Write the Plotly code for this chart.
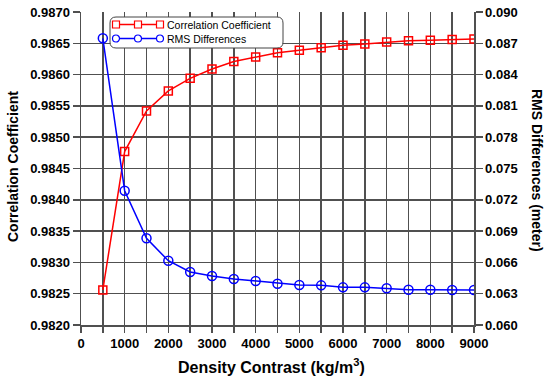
import plotly.graph_objects as go

density = [500, 1000, 1500, 2000, 2500, 3000, 3500, 4000, 4500, 5000,
           5500, 6000, 6500, 7000, 7500, 8000, 8500, 9000]
corr = [0.98256, 0.98477, 0.98542, 0.98574, 0.98594, 0.98609, 0.98621, 0.98628, 0.98635,
        0.98639, 0.98643, 0.98647, 0.98649, 0.98652, 0.98654, 0.98655, 0.98656, 0.98657]
rms = [0.08748, 0.07287, 0.06831, 0.06616, 0.06508, 0.06470, 0.06441, 0.06422, 0.06396,
       0.06383, 0.06380, 0.06361, 0.06361, 0.06352, 0.06338, 0.06338, 0.06335, 0.06335]

x_ticks = list(range(0, 9001, 1000))
y1_ticks = [0.9820, 0.9825, 0.9830, 0.9835, 0.9840, 0.9845, 0.9850, 0.9855, 0.9860, 0.9865, 0.9870]
y2_ticks = [0.060, 0.063, 0.066, 0.069, 0.072, 0.075, 0.078, 0.081, 0.084, 0.087, 0.090]
series_names = ["Correlation Coefficient", "RMS Differences"]
series_colors = ["#ff0000", "#0000ff"]
series_symbols = ["square-open", "circle-open"]

FONT = "Liberation Sans, Arial, sans-serif"
GRID = "#505050"
GW = 1.5

FIG_W, FIG_H = 550, 381
# plot area in pixels
L, W, T, H = 81, 393, 12, 313

fig = go.Figure()
fig.add_trace(go.Scatter(
    x=density, y=corr, name=series_names[0], mode="lines+markers",
    line=dict(color=series_colors[0], width=1.5),
    marker=dict(symbol=series_symbols[0], size=8, color=series_colors[0], line=dict(width=1.5)),
    yaxis="y", showlegend=False))
fig.add_trace(go.Scatter(
    x=density, y=rms, name=series_names[1], mode="lines+markers",
    line=dict(color=series_colors[1], width=1.5),
    marker=dict(symbol=series_symbols[1], size=9, color=series_colors[1], line=dict(width=1.5)),
    yaxis="y2", showlegend=False))

tickfont = dict(family=FONT, size=13, color="black", weight="bold")

def px(x):
    return (x - L) / W
def py(y):
    return (T + H - y) / H

# ---- custom legend (rounded box, line with three markers) ----
bx0, bx1, by0, by1, r = 110, 283, 17, 48, 6
path = (f"M {px(bx0 + r)} {py(by0)} L {px(bx1 - r)} {py(by0)} "
        f"Q {px(bx1)} {py(by0)} {px(bx1)} {py(by0 + r)} "
        f"L {px(bx1)} {py(by1 - r)} Q {px(bx1)} {py(by1)} {px(bx1 - r)} {py(by1)} "
        f"L {px(bx0 + r)} {py(by1)} Q {px(bx0)} {py(by1)} {px(bx0)} {py(by1 - r)} "
        f"L {px(bx0)} {py(by0 + r)} Q {px(bx0)} {py(by0)} {px(bx0 + r)} {py(by0)} Z")
shapes = [dict(type="path", xref="paper", yref="paper", path=path,
               fillcolor="white", line=dict(color="#444444", width=1), layer="above")]
annotations = []
rows = [24.5, 38.5]
for i, (name, col, sym) in enumerate(zip(series_names, series_colors, series_symbols)):
    yy = py(rows[i])
    shapes.append(dict(type="line", xref="paper", yref="paper", x0=px(116), x1=px(160),
                       y0=yy, y1=yy, line=dict(color=col, width=1.5), layer="above"))
    for mx in (116, 138, 160):
        s = 3.5
        shapes.append(dict(type="rect" if sym.startswith("square") else "circle",
                           xref="paper", yref="paper", xsizemode="pixel", ysizemode="pixel",
                           xanchor=px(mx), yanchor=yy, x0=-s, x1=s, y0=-s, y1=s,
                           fillcolor="white", line=dict(color=col, width=1.2), layer="above"))
    annotations.append(dict(xref="paper", yref="paper", x=px(165), y=yy, xanchor="left",
                            yanchor="middle", text=name, showarrow=False,
                            font=dict(family=FONT, size=10.5, color="black")))

# axis titles as annotations for precise placement
annotations.append(dict(xref="paper", yref="paper", x=px(13), y=py(167), text="Correlation Coefficient",
                        textangle=-90, showarrow=False, xanchor="center", yanchor="middle",
                        font=dict(family=FONT, size=14, color="black", weight="bold")))
annotations.append(dict(xref="paper", yref="paper", x=px(537), y=py(170), text="RMS Differences (meter)",
                        textangle=90, showarrow=False, xanchor="center", yanchor="middle",
                        font=dict(family=FONT, size=14, color="black", weight="bold")))
annotations.append(dict(xref="paper", yref="paper", x=px(271), y=py(366), text="Density Contrast (kg/m<sup>3</sup>)",
                        showarrow=False, xanchor="center", yanchor="middle",
                        font=dict(family=FONT, size=16, color="black", weight="bold")))

fig.update_layout(
    width=FIG_W, height=FIG_H,
    margin=dict(l=L, r=FIG_W - L - W, t=T, b=FIG_H - T - H, pad=0, autoexpand=False),
    paper_bgcolor="white", plot_bgcolor="white",
    showlegend=False, hovermode=False,
    shapes=shapes, annotations=annotations,
    xaxis=dict(range=[0, 9000], tickvals=x_ticks, ticktext=[str(v) for v in x_ticks],
               showgrid=True, gridcolor=GRID, gridwidth=GW,
               minor=dict(dtick=500, tick0=0, showgrid=True, gridcolor=GRID, gridwidth=GW,
                          ticks="outside", ticklen=6, tickcolor=GRID, tickwidth=GW),
               ticks="outside", ticklen=6, tickcolor=GRID, tickwidth=GW,
               showline=True, linecolor=GRID, linewidth=GW,
               zeroline=False, tickfont=tickfont),
    yaxis=dict(range=[0.982, 0.987], tickvals=y1_ticks, ticktext=[f"{v:.4f}" for v in y1_ticks],
               showgrid=True, gridcolor=GRID, gridwidth=GW,
               ticks="outside", ticklen=7, tickcolor=GRID, tickwidth=GW,
               showline=True, linecolor=GRID, linewidth=GW,
               zeroline=False, tickfont=tickfont, ticklabeloverflow="allow"),
    yaxis2=dict(range=[0.060, 0.090], tickvals=y2_ticks, ticktext=[f"{v:.3f}" for v in y2_ticks],
                overlaying="y", side="right", showgrid=False,
                ticks="outside", ticklen=7, tickcolor=GRID, tickwidth=GW,
                showline=True, linecolor=GRID, linewidth=GW,
                zeroline=False, tickfont=tickfont, ticklabeloverflow="allow"),
)

fig.write_html("out.html", config={"displayModeBar": False, "staticPlot": True},
               post_script="document.body.style.margin='0';document.body.style.padding='0';")
